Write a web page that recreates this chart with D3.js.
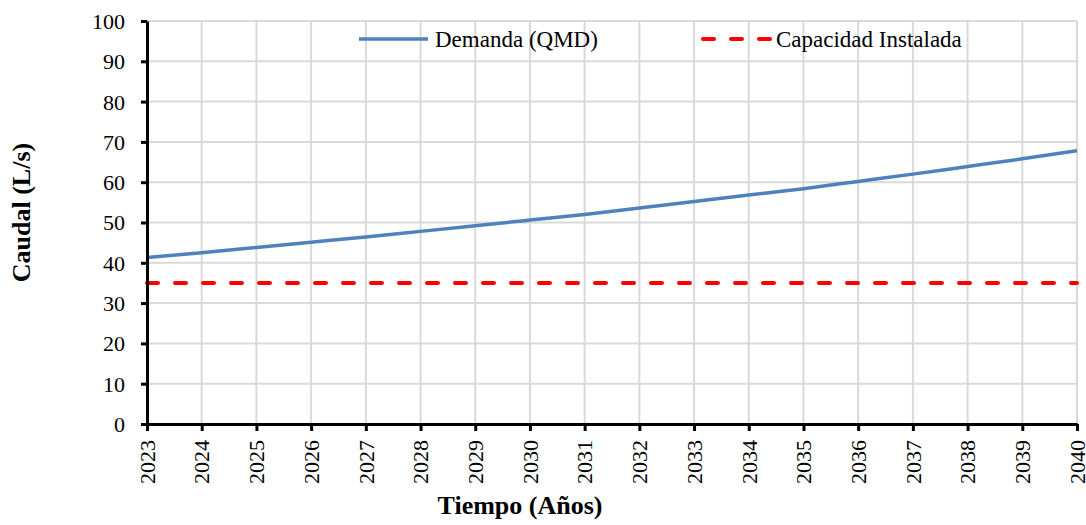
<!DOCTYPE html>
<html>
<head>
<meta charset="utf-8">
<script src="https://cdn.jsdelivr.net/npm/d3@7"></script>
<style>
    body { margin: 0; background: #fff; }
    svg { display: block; font-family: "Liberation Serif", "Times New Roman", serif; }
</style>
</head>
<body>
<div id="chart"></div>
<script>
// Years on the x axis
const years = [2023, 2024, 2025, 2026, 2027, 2028, 2029, 2030, 2031, 2032,
    2033, 2034, 2035, 2036, 2037, 2038, 2039, 2040];

// Demand (QMD), L/s
const demanda = [41.3, 42.5, 43.8, 45.1, 46.4, 47.8, 49.2, 50.6, 52.0, 53.6,
    55.2, 56.8, 58.4, 60.2, 62.0, 63.9, 65.8, 67.8];

// Installed capacity, L/s
const capacidad = years.map(() => 35);

const yTicks = [0, 10, 20, 30, 40, 50, 60, 70, 80, 90, 100];

(function () {
    const W = 1086, H = 525;
    const margin = { top: 21, right: 9, bottom: 101, left: 147 };
    const width = W - margin.left - margin.right;
    const height = H - margin.top - margin.bottom;

    const svg = d3.select("#chart").append("svg")
        .attr("width", W)
        .attr("height", H);

    const g = svg.append("g")
        .attr("transform", `translate(${margin.left},${margin.top})`);

    const x = d3.scaleLinear().domain([2023, 2040]).range([0, width]);
    const y = d3.scaleLinear().domain([0, 100]).range([height, 0]);

    // Gridlines
    g.append("g").selectAll("line")
        .data(yTicks.slice(1))
        .enter().append("line")
        .attr("x1", 0).attr("x2", width)
        .attr("y1", d => y(d)).attr("y2", d => y(d))
        .attr("stroke", "#d9d9d9").attr("stroke-width", 2);

    g.append("g").selectAll("line")
        .data(years.slice(1))
        .enter().append("line")
        .attr("x1", d => x(d)).attr("x2", d => x(d))
        .attr("y1", 0).attr("y2", height)
        .attr("stroke", "#d9d9d9").attr("stroke-width", 2);

    // Series
    const line = d3.line()
        .x((d, i) => x(years[i]))
        .y(d => y(d))
        .curve(d3.curveMonotoneX);

    g.append("path")
        .datum(capacidad)
        .attr("d", line)
        .attr("fill", "none")
        .attr("stroke", "#ff0000")
        .attr("stroke-width", 4)
        .attr("stroke-linecap", "round")
        .attr("stroke-dasharray", "11,17");

    g.append("path")
        .datum(demanda)
        .attr("d", line)
        .attr("fill", "none")
        .attr("stroke", "#4f81bd")
        .attr("stroke-width", 3.5);

    // Axes
    const yAxis = g.append("g")
        .call(d3.axisLeft(y).tickValues(yTicks).tickSize(6).tickSizeOuter(0));
    const xAxis = g.append("g")
        .attr("transform", `translate(0,${height})`)
        .call(d3.axisBottom(x).tickValues(years).tickFormat(d3.format("d")).tickSize(7).tickSizeOuter(0));

    [yAxis, xAxis].forEach(a => {
        a.attr("font-family", null).attr("font-size", null);
        a.select(".domain").attr("stroke", "#000").attr("stroke-width", 3);
        a.selectAll(".tick line").attr("stroke", "#000").attr("stroke-width", 3);
        a.selectAll("text")
            .attr("font-size", 22)
            .attr("fill", "#000");
    });

    yAxis.selectAll("text").attr("x", -22).attr("dy", "0.34em");

    xAxis.selectAll("text")
        .attr("transform", "rotate(-90)")
        .attr("text-anchor", "end")
        .attr("x", -16)
        .attr("y", 0)
        .attr("dy", "0.33em");

    // Axis titles
    svg.append("text")
        .attr("transform", `translate(30,${margin.top + height / 2 - 10}) rotate(-90)`)
        .attr("text-anchor", "middle")
        .attr("font-size", 26)
        .attr("font-weight", "bold")
        .text("Caudal (L/s)");

    svg.append("text")
        .attr("x", 520)
        .attr("y", 514)
        .attr("text-anchor", "middle")
        .attr("font-size", 26)
        .attr("font-weight", "bold")
        .text("Tiempo (Años)");

    // Legend
    const legend = svg.append("g");
    legend.append("line")
        .attr("x1", 359).attr("x2", 428).attr("y1", 39).attr("y2", 39)
        .attr("stroke", "#4f81bd").attr("stroke-width", 3.5);
    legend.append("text")
        .attr("x", 435).attr("y", 47)
        .attr("font-size", 23)
        .text("Demanda (QMD)");

    legend.append("line")
        .attr("x1", 703).attr("x2", 770).attr("y1", 39).attr("y2", 39)
        .attr("stroke", "#ff0000").attr("stroke-width", 4)
        .attr("stroke-linecap", "round")
        .attr("stroke-dasharray", "11,17");
    legend.append("text")
        .attr("x", 776).attr("y", 47)
        .attr("font-size", 23)
        .text("Capacidad Instalada");
})();
</script>
</body>
</html>
